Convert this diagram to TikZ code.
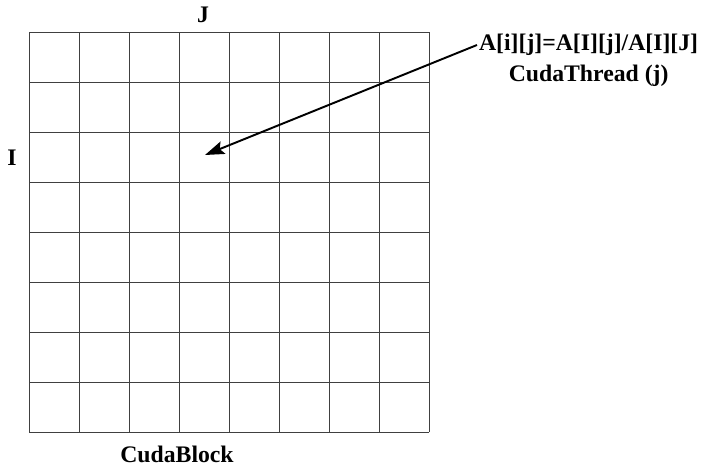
\documentclass[tikz,border=0pt]{standalone}
\usepackage{fontspec}
\setmainfont{Liberation Serif}
\usetikzlibrary{arrows.meta, positioning, calc}

\begin{document}
\begin{tikzpicture}[
    x=1cm, y=1cm,
    gridline/.style={draw=black!75, line width=0.55pt},
    lbl/.style={font=\fontsize{13.5}{15}\selectfont\bfseries, inner sep=1pt},
    arr/.style={-{Stealth[length=11pt, width=7.5pt, inset=2pt]}, line width=1.1pt},
  ]
    \useasboundingbox (-0.58,-0.68) rectangle (13.54,8.64);

    % Grid of threads
    \foreach \k in {0,...,8} {
      \draw[gridline] (\k,0) -- (\k,8);
      \draw[gridline] (0,\k) -- (8,\k);
    }

    % Axis labels
    \node[lbl] (jlab) at (3.48,8.34) {J};
    \node[lbl] (ilab) at (-0.34,5.48) {I};
    \node[lbl] (block) at (2.96,-0.44) {CudaBlock};

    % Thread operation
    \node[lbl, anchor=west] (eq) at (8.96,7.74) {A[i][j]=A[I][j]/A[I][J]};
    \node[lbl, below=0.1cm of eq] (thread) {CudaThread (j)};

    % Arrow to the cell
    \coordinate (cell) at (3.52,5.54);
    \draw[arr] (eq.west) -- (cell);
  \end{tikzpicture}
\end{document}
